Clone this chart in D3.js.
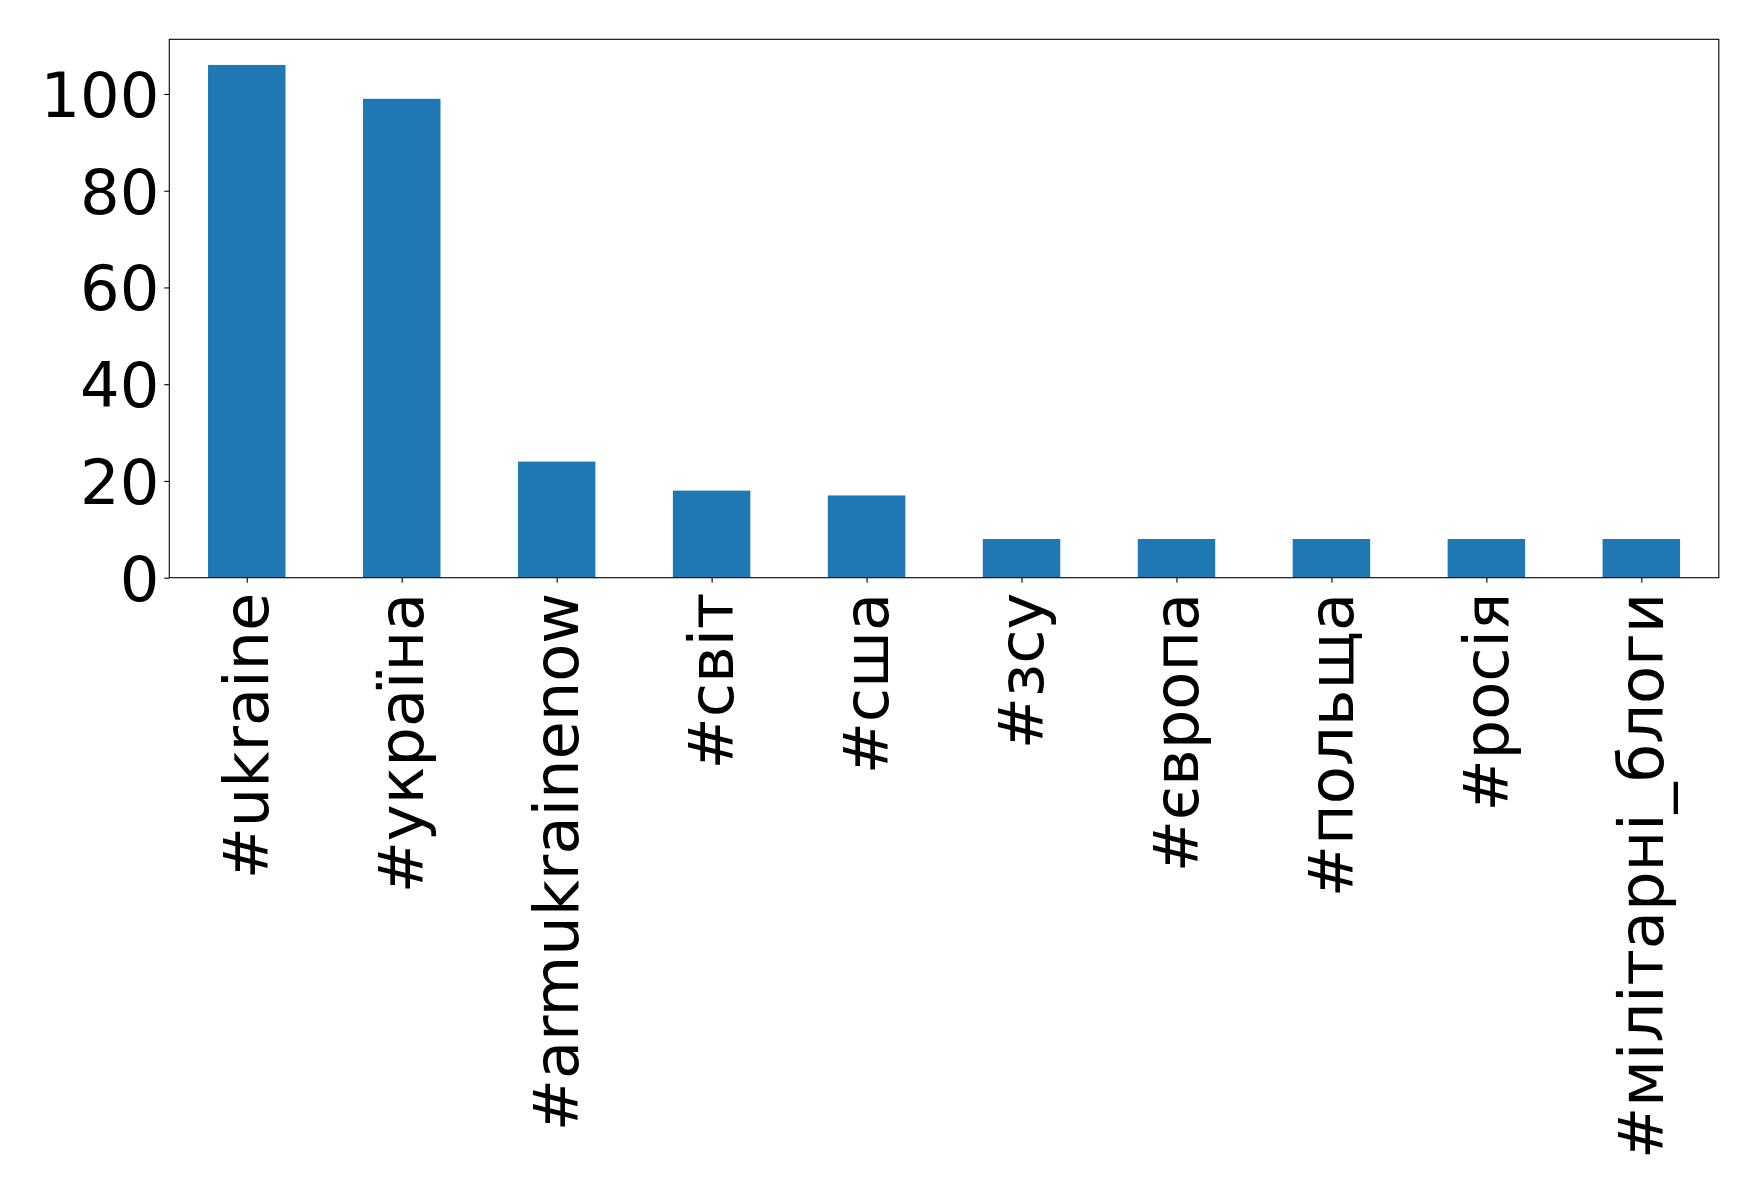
<!DOCTYPE html>
<html>
<head>
<meta charset="utf-8">
<script src="https://cdn.jsdelivr.net/npm/d3@7"></script>
<style>
  html, body { margin: 0; padding: 0; background: #fff; }
  svg { display: block; }
  text { font-family: "DejaVu Sans", sans-serif; fill: #000; }
</style>
</head>
<body>
<svg id="chart" width="1758" height="1196"></svg>
<script>
const categories = ["#ukraine", "#україна", "#armukrainenow", "#світ", "#сша", "#зсу", "#європа", "#польща", "#росія", "#мілітарні_блоги"];
const values = [106, 99, 24, 18, 17, 8, 8, 8, 8, 8];
const yTicks = [0, 20, 40, 60, 80, 100];

const W = 1758, H = 1196;
const margin = { left: 169.3, right: W - 1718.8, top: 39.3, bottom: H - 577.7 };
const svg = d3.select("#chart");
const fontSize = 62.3;

const x = d3.scaleLinear()
  .domain([-0.5, categories.length - 0.5])
  .range([margin.left, W - margin.right]);
const yMax = d3.max(values) * 1.05;
const y = d3.scaleLinear()
  .domain([0, yMax])
  .range([H - margin.bottom, margin.top]);

const barW = 0.5;

svg.append("g")
  .selectAll("rect")
  .data(values)
  .join("rect")
  .attr("x", (d, i) => x(i - barW / 2))
  .attr("width", (d, i) => x(i + barW / 2) - x(i - barW / 2))
  .attr("y", d => y(d))
  .attr("height", d => y(0) - y(d))
  .attr("fill", "#1f77b4");

// Y axis
const yAxis = d3.axisLeft(y)
  .tickValues(yTicks)
  .tickFormat(d3.format("d"))
  .tickSize(5)
  .tickPadding(5);
const gy = svg.append("g")
  .attr("transform", `translate(${margin.left},0)`)
  .call(yAxis);
gy.select(".domain").remove();
gy.selectAll(".tick line").attr("stroke", "#000").attr("stroke-width", 1.1);
gy.selectAll(".tick text")
  .attr("font-size", fontSize)
  .attr("font-family", "DejaVu Sans")
  .attr("fill", "#000")
  .attr("dy", "0.36em");

// X axis
const xAxis = d3.axisBottom(x)
  .tickValues(d3.range(categories.length))
  .tickFormat(i => categories[i])
  .tickSize(5)
  .tickPadding(0);
const gx = svg.append("g")
  .attr("transform", `translate(0,${H - margin.bottom})`)
  .call(xAxis);
gx.select(".domain").remove();
gx.selectAll(".tick line").attr("stroke", "#000").attr("stroke-width", 1.1);
gx.selectAll(".tick text")
  .attr("font-size", fontSize)
  .attr("font-family", "DejaVu Sans")
  .attr("fill", "#000")
  .attr("text-anchor", "end")
  .attr("y", 0)
  .attr("dy", 0)
  .attr("transform", "translate(21.2,15) rotate(-90)");

// Frame
svg.append("rect")
  .attr("x", margin.left)
  .attr("y", margin.top)
  .attr("width", W - margin.left - margin.right)
  .attr("height", H - margin.top - margin.bottom)
  .attr("fill", "none")
  .attr("stroke", "#000")
  .attr("stroke-width", 1.1);
</script>
</body>
</html>
